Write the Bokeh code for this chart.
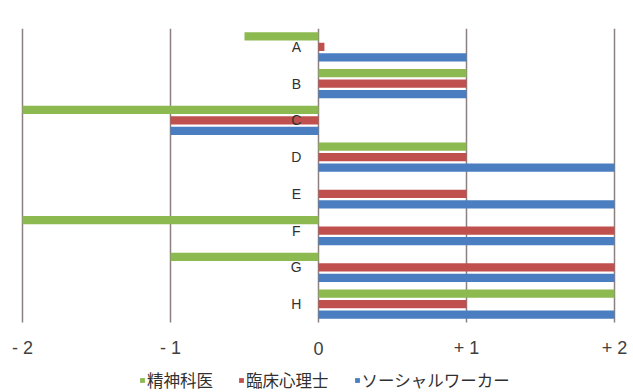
from bokeh.plotting import figure
from bokeh.models import Range1d, ColumnDataSource, Legend, LegendItem
from bokeh.core.properties import value
from bokeh.embed import file_html
from bokeh.resources import INLINE

categories = ["A", "B", "C", "D", "E", "F", "G", "H"]
series_names = ["精神科医", "臨床心理士", "ソーシャルワーカー"]
psychiatrist = [-0.5, 1, -2, 1, 0, -2, -1, 2]
psychologist = [0.04, 1, -1, 1, 1, 2, 2, 1]
social_worker = [1, 1, -1, 2, 2, 2, 2, 2]
tick_values = [-2, -1, 0, 1, 2]
tick_labels = ["- 2", "- 1", "0", "+ 1", "+ 2"]

colors = ["#8DB951", "#C0504D", "#4A7EC0"]
offsets = [-0.285, 0.0, 0.285]
series = [psychiatrist, psychologist, social_worker]
n = len(categories)

# frame covers the whole page width and extends to the bottom of the page
p = figure(width=633, height=392, output_backend="svg", toolbar_location=None,
           x_range=Range1d(-2.1486, 2.1284), y_range=Range1d(n - 0.5 + 1.905, -0.5),
           min_border_left=0, min_border_right=0, min_border_top=28, min_border_bottom=0)
p.outline_line_color = None
p.background_fill_color = "white"
p.border_fill_color = "white"
p.xaxis.visible = False
p.yaxis.visible = False
p.xgrid.grid_line_color = None
p.ygrid.grid_line_color = None

# vertical grid lines limited to the category area
grid_src = ColumnDataSource(dict(x=tick_values, y0=[-0.5] * len(tick_values),
                                 y1=[n - 0.5] * len(tick_values)))
p.segment(x0="x", y0="y0", x1="x", y1="y1", source=grid_src,
          line_color="#8C8080", line_width=1.5)

items = []
idx = list(range(n))
for name, vals, col, off in zip(series_names, series, colors, offsets):
    src = ColumnDataSource(dict(y=[i + off for i in idx], right=vals, left=[0] * len(vals)))
    r = p.hbar(y="y", left="left", right="right", height=0.22, source=src,
               fill_color=col, line_color=None)
    items.append(LegendItem(label=name, renderers=[r]))

lab_src = ColumnDataSource(dict(x=[-0.15] * n, y=idx, t=categories))
p.text(x="x", y="y", text="t", source=lab_src, text_align="center", text_baseline="middle",
       text_font=value("Liberation Sans"), text_font_size="14px", text_color="#303030")

tick_src = ColumnDataSource(dict(x=tick_values, y=[n + 0.207] * len(tick_values), t=tick_labels))
p.text(x="x", y="y", text="t", source=tick_src, text_align="center", text_baseline="middle",
       text_font=value("Liberation Sans"), text_font_size="18px", text_color="#404040")

legend = Legend(items=items, orientation="horizontal", location=(139, 0),
                padding=0, margin=0, spacing=25, glyph_width=6, glyph_height=6,
                label_standoff=2, label_text_font="Noto Sans CJK JP",
                label_text_font_size="16.5px", label_text_color="#303030",
                label_height=20, border_line_alpha=0, background_fill_alpha=0)
p.add_layout(legend, "center")

open("out.html", "w").write(file_html(p, INLINE))
